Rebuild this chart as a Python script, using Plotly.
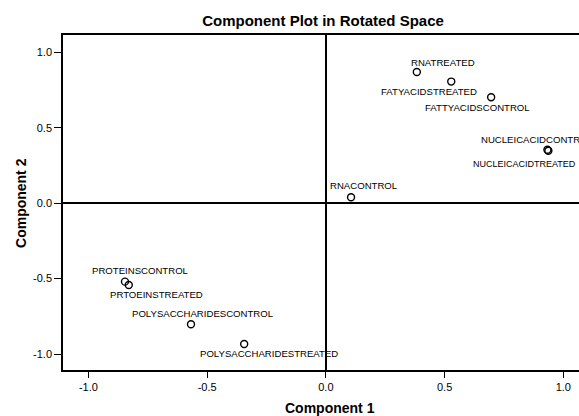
import plotly.graph_objects as go

labels = ["RNATREATED", "FATYACIDSTREATED", "FATTYACIDSCONTROL", "NUCLEICACIDCONTROL",
          "NUCLEICACIDTREATED", "RNACONTROL", "PROTEINSCONTROL", "PRTOEINSTREATED",
          "POLYSACCHARIDESCONTROL", "POLYSACCHARIDESTREATED"]
comp1 = [0.383, 0.528, 0.696, 0.933, 0.937, 0.106, -0.846, -0.830, -0.568, -0.344]
comp2 = [0.871, 0.807, 0.703, 0.355, 0.348, 0.040, -0.520, -0.542, -0.803, -0.934]
x_ticks = [-1.0, -0.5, 0.0, 0.5, 1.0]
y_ticks = [-1.0, -0.5, 0.0, 0.5, 1.0]

# label placement offsets in pixels (left edge dx, vertical centre dy; positive dy = up)
label_dx = [-8, -72, -68, -68, -77, -23, -35, -21, -61, -46]
label_dy = [9, -10, -10, 10, -13, 12, 11, -10, 11, -9]
label_size = [9.6, 9.6, 9.6, 9.6, 9.0, 9.6, 9.6, 9.6, 9.6, 9.6]

FONT = "Liberation Sans, Arial, sans-serif"

fig = go.Figure()
fig.add_trace(go.Scatter(
    x=comp1, y=comp2, mode="markers",
    marker=dict(symbol="circle-open", size=7, color="black", line=dict(width=1.4, color="black")),
    hoverinfo="text", text=labels, showlegend=False,
))

annotations = []
for lab, xv, yv, dx, dy, fs in zip(labels, comp1, comp2, label_dx, label_dy, label_size):
    annotations.append(dict(
        x=xv, y=yv, xref="x", yref="y", text=lab, showarrow=False,
        xanchor="left", yanchor="middle", xshift=dx, yshift=dy,
        font=dict(family=FONT, size=fs, color="black"),
    ))

annotations.append(dict(text="<b>Component 1</b>", xref="paper", yref="paper",
                        x=0.517, y=-0.114, xanchor="center", yanchor="middle", showarrow=False,
                        font=dict(family=FONT, size=14, color="black")))
annotations.append(dict(text="<b>Component 2</b>", xref="paper", yref="paper",
                        x=-0.0824, y=0.5, xanchor="center", yanchor="middle", showarrow=False,
                        textangle=-90, font=dict(family=FONT, size=14, color="black")))

fig.update_layout(
    width=579, height=416,
    margin=dict(l=63, r=0, t=35, b=46),
    paper_bgcolor="white", plot_bgcolor="white",
    title=dict(text="<b>Component Plot in Rotated Space</b>", x=323 / 579, xref="container",
               y=1 - 20.7 / 416, yref="container", xanchor="center", yanchor="middle",
               font=dict(family=FONT, size=15, color="black")),
    annotations=annotations,
    xaxis=dict(range=[-1.107, 1.066], tickvals=x_ticks, ticktext=[f"{v:.1f}" for v in x_ticks],
               showgrid=False, zeroline=True, zerolinecolor="black", zerolinewidth=1.5,
               showline=True, linecolor="black", linewidth=1.5, mirror=True,
               ticks="outside", ticklen=6, tickcolor="black", tickwidth=1.2,
               tickfont=dict(family=FONT, size=11, color="black")),
    yaxis=dict(range=[-1.106, 1.116], tickvals=y_ticks, ticktext=[f"{v:.1f}" for v in y_ticks],
               showgrid=False, zeroline=True, zerolinecolor="black", zerolinewidth=1.5,
               showline=True, linecolor="black", linewidth=1.5, mirror=False,
               ticks="outside", ticklen=7, tickcolor="black", tickwidth=1.2,
               tickfont=dict(family=FONT, size=11, color="black")),
)

fig.write_html("out.html", config={"displayModeBar": False},
               post_script="document.body.style.margin='0px';document.body.style.overflow='hidden';")
